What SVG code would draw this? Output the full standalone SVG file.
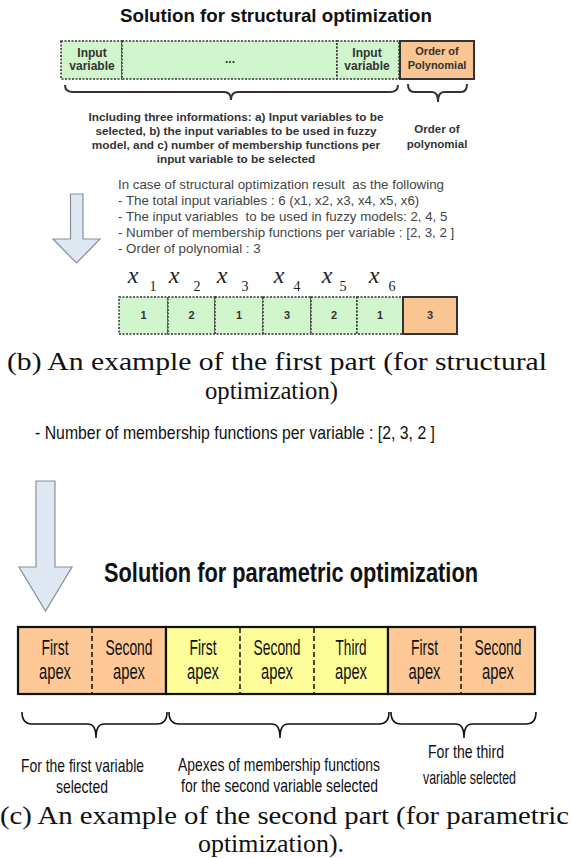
<svg xmlns="http://www.w3.org/2000/svg" width="571" height="858" viewBox="0 0 571 858">
<style>
.title{font-family:"Liberation Sans",Arial,sans-serif;font-weight:bold;fill:#111;}
.b{font-family:"Liberation Sans",Arial,sans-serif;font-weight:bold;fill:#333;text-anchor:middle;}
.r{font-family:"Liberation Sans",Arial,sans-serif;fill:#444;}
.n{font-family:"Liberation Sans",Arial,sans-serif;fill:#111;text-anchor:middle;}
.cap{font-family:"Liberation Serif","Times New Roman",serif;fill:#111;}
.xv{font-family:"Liberation Serif","Times New Roman",serif;font-style:italic;fill:#222;font-size:24px;text-anchor:middle;}
.xs{font-family:"Liberation Serif","Times New Roman",serif;fill:#222;font-size:14px;text-anchor:middle;}
.green{fill:#d0f5cc;stroke:#333;stroke-width:1.5;stroke-dasharray:2 1.5;}
.orange{fill:#f9c592;stroke:#333;stroke-width:2;}
.pO{fill:#fec897;stroke:#111;stroke-width:2.2;}
.pY{fill:#fdfd99;stroke:#111;stroke-width:2.2;}
.div{stroke:#111;stroke-width:1.5;stroke-dasharray:5 3;fill:none;}
.brace{fill:none;stroke:#333;stroke-width:2;}
.brace2{fill:none;stroke:#111;stroke-width:1.6;}
.arrow{fill:#dfe7f2;stroke:#8a8f96;stroke-width:1.2;}
</style>

<text class="title" x="120" y="22" font-size="18.5" textLength="312" lengthAdjust="spacingAndGlyphs">Solution for structural optimization</text>

<g id="struct-bar">
  <rect class="green" x="61" y="41" width="61" height="38"/>
  <rect class="green" x="122" y="41" width="215" height="38"/>
  <rect class="green" x="337" y="41" width="62" height="38"/>
  <rect class="orange" x="400" y="41" width="74" height="38"/>
  <text class="b" font-size="12" x="92" y="56.5">Input</text>
  <text class="b" font-size="12" x="92" y="70">variable</text>
  <text class="b" font-size="12" x="230" y="63">...</text>
  <text class="b" font-size="12" x="367" y="56.5">Input</text>
  <text class="b" font-size="12" x="367" y="70">variable</text>
  <text class="b" font-size="11" x="437" y="55">Order of</text>
  <text class="b" font-size="11" x="437" y="68.5">Polynomial</text>
</g>

<g id="connectors">
  <path class="brace" d="M65,85 Q65,92 73,92 L224,92 Q231,92 231,100 Q231,92 238,92 L390,92 Q398,92 398,85"/>
  <path class="brace" d="M408,84 Q408,92 414,92 L432,92 Q438,92 438,102 Q438,92 444,92 L461,92 Q467,92 467,84"/>
  <polygon class="arrow" points="70.5,194 83,194 83,239 100,239 76.5,263 53,239 70.5,239"/>
  <polygon class="arrow" points="36,481 55,481 55,567 72,567 45.5,611 19,567 36,567"/>
  <path class="brace2" d="M22,712 Q22,724 32,724 L88,724 Q96,724 96,738 Q96,724 104,724 L157,724 Q167,724 167,712"/>
  <path class="brace2" d="M169,712 Q169,724 179,724 L272,724 Q280,724 280,738 Q280,724 288,724 L379,724 Q389,724 389,712"/>
  <path class="brace2" d="M391,712 Q391,724 401,724 L456,724 Q464,724 464,738 Q464,724 472,724 L526,724 Q536,724 536,712"/>
</g>

<g id="struct-notes">
  <text class="b" font-size="11.8" x="236" y="121">Including three informations: a) Input variables to be</text>
  <text class="b" font-size="11.8" x="236" y="135">selected, b) the input variables to be used in fuzzy</text>
  <text class="b" font-size="11.8" x="236" y="149">model, and c) number of membership functions  per</text>
  <text class="b" font-size="11.8" x="236" y="163">input variable to be selected</text>
  <text class="b" font-size="11.5" x="437" y="133">Order of</text>
  <text class="b" font-size="11.5" x="437" y="148">polynomial</text>
</g>

<g id="example-text">
  <text class="r" font-size="13.3" x="118" y="189" xml:space="preserve">In case of structural optimization result  as the following</text>
  <text class="r" font-size="13.3" x="118" y="205">- The total input variables : 6 (x1, x2, x3, x4, x5, x6)</text>
  <text class="r" font-size="13.3" x="118" y="221" xml:space="preserve">- The input variables  to be used in fuzzy models: 2, 4, 5</text>
  <text class="r" font-size="13.3" x="118" y="237">- Number of membership functions per variable : [2, 3, 2 ]</text>
  <text class="r" font-size="13.3" x="118" y="253">- Order of polynomial : 3</text>
</g>

<g id="x-labels">
  <text class="xv" x="133" y="283">x</text><text class="xs" x="153" y="291">1</text>
  <text class="xv" x="174" y="283">x</text><text class="xs" x="197" y="291">2</text>
  <text class="xv" x="222" y="283">x</text><text class="xs" x="245" y="291">3</text>
  <text class="xv" x="279" y="283">x</text><text class="xs" x="297" y="291">4</text>
  <text class="xv" x="327" y="283">x</text><text class="xs" x="343" y="291">5</text>
  <text class="xv" x="374" y="283">x</text><text class="xs" x="392" y="291">6</text>
</g>

<g id="example-bar">
  <rect class="green" x="119" y="297" width="49" height="37"/>
  <rect class="green" x="168" y="297" width="47" height="37"/>
  <rect class="green" x="215" y="297" width="48" height="37"/>
  <rect class="green" x="263" y="297" width="48" height="37"/>
  <rect class="green" x="311" y="297" width="46" height="37"/>
  <rect class="green" x="357" y="297" width="46" height="37"/>
  <rect class="orange" x="403" y="297" width="54" height="37"/>
  <text class="b" font-size="11" x="143.5" y="319">1</text>
  <text class="b" font-size="11" x="191.5" y="319">2</text>
  <text class="b" font-size="11" x="239" y="319">1</text>
  <text class="b" font-size="11" x="287" y="319">3</text>
  <text class="b" font-size="11" x="334" y="319">2</text>
  <text class="b" font-size="11" x="380" y="319">1</text>
  <text class="b" font-size="11" x="430" y="319">3</text>
</g>

<g id="caption-b">
  <text class="cap" font-size="25" x="7" y="370" textLength="540" lengthAdjust="spacingAndGlyphs">(b) An example of the first part (for structural</text>
  <text class="cap" font-size="25" x="205" y="399" textLength="133" lengthAdjust="spacingAndGlyphs">optimization)</text>
</g>

<text class="n" font-size="19" x="35" y="439" style="text-anchor:start" textLength="400" lengthAdjust="spacingAndGlyphs">- Number of membership functions per variable : [2, 3, 2 ]</text>

<text class="title" x="104" y="582" font-size="27" textLength="374" lengthAdjust="spacingAndGlyphs">Solution for parametric optimization</text>

<g id="param-var1">
  <rect class="pO" x="18" y="627" width="148" height="67"/>
  <line class="div" x1="92" y1="628" x2="92" y2="693"/>
  <text class="n" font-size="22" x="55" y="655" textLength="27" lengthAdjust="spacingAndGlyphs">First</text>
  <text class="n" font-size="22" x="55" y="679" textLength="32" lengthAdjust="spacingAndGlyphs">apex</text>
  <text class="n" font-size="22" x="129" y="655" textLength="47" lengthAdjust="spacingAndGlyphs">Second</text>
  <text class="n" font-size="22" x="129" y="679" textLength="32" lengthAdjust="spacingAndGlyphs">apex</text>
</g>
<g id="param-var2">
  <rect class="pY" x="166" y="627" width="222" height="67"/>
  <line class="div" x1="240" y1="628" x2="240" y2="693"/>
  <line class="div" x1="314" y1="628" x2="314" y2="693"/>
  <text class="n" font-size="22" x="203" y="655" textLength="27" lengthAdjust="spacingAndGlyphs">First</text>
  <text class="n" font-size="22" x="203" y="679" textLength="32" lengthAdjust="spacingAndGlyphs">apex</text>
  <text class="n" font-size="22" x="277" y="655" textLength="47" lengthAdjust="spacingAndGlyphs">Second</text>
  <text class="n" font-size="22" x="277" y="679" textLength="32" lengthAdjust="spacingAndGlyphs">apex</text>
  <text class="n" font-size="22" x="351" y="655" textLength="31" lengthAdjust="spacingAndGlyphs">Third</text>
  <text class="n" font-size="22" x="351" y="679" textLength="32" lengthAdjust="spacingAndGlyphs">apex</text>
</g>
<g id="param-var3">
  <rect class="pO" x="388" y="627" width="147" height="67"/>
  <line class="div" x1="461" y1="628" x2="461" y2="693"/>
  <text class="n" font-size="22" x="424.5" y="655" textLength="27" lengthAdjust="spacingAndGlyphs">First</text>
  <text class="n" font-size="22" x="424.5" y="679" textLength="32" lengthAdjust="spacingAndGlyphs">apex</text>
  <text class="n" font-size="22" x="498" y="655" textLength="47" lengthAdjust="spacingAndGlyphs">Second</text>
  <text class="n" font-size="22" x="498" y="679" textLength="32" lengthAdjust="spacingAndGlyphs">apex</text>
</g>

<g id="param-labels">
  <text class="n" font-size="18.5" x="82.5" y="772" textLength="123" lengthAdjust="spacingAndGlyphs">For the first variable</text>
  <text class="n" font-size="18.5" x="82" y="793" textLength="52" lengthAdjust="spacingAndGlyphs">selected</text>
  <text class="n" font-size="18.5" x="279" y="771" textLength="202" lengthAdjust="spacingAndGlyphs">Apexes of membership functions</text>
  <text class="n" font-size="18.5" x="279.5" y="792" textLength="197" lengthAdjust="spacingAndGlyphs">for the second variable selected</text>
  <text class="n" font-size="18.5" x="466" y="758" textLength="76" lengthAdjust="spacingAndGlyphs">For the third</text>
  <text class="n" font-size="18.5" x="469.5" y="784" textLength="93" lengthAdjust="spacingAndGlyphs">variable selected</text>
</g>

<g id="caption-c">
  <text class="cap" font-size="25" x="0" y="824" textLength="569" lengthAdjust="spacingAndGlyphs">(c) An example of the second part (for parametric</text>
  <text class="cap" font-size="25" x="198" y="852" textLength="146" lengthAdjust="spacingAndGlyphs">optimization).</text>
</g>
</svg>
